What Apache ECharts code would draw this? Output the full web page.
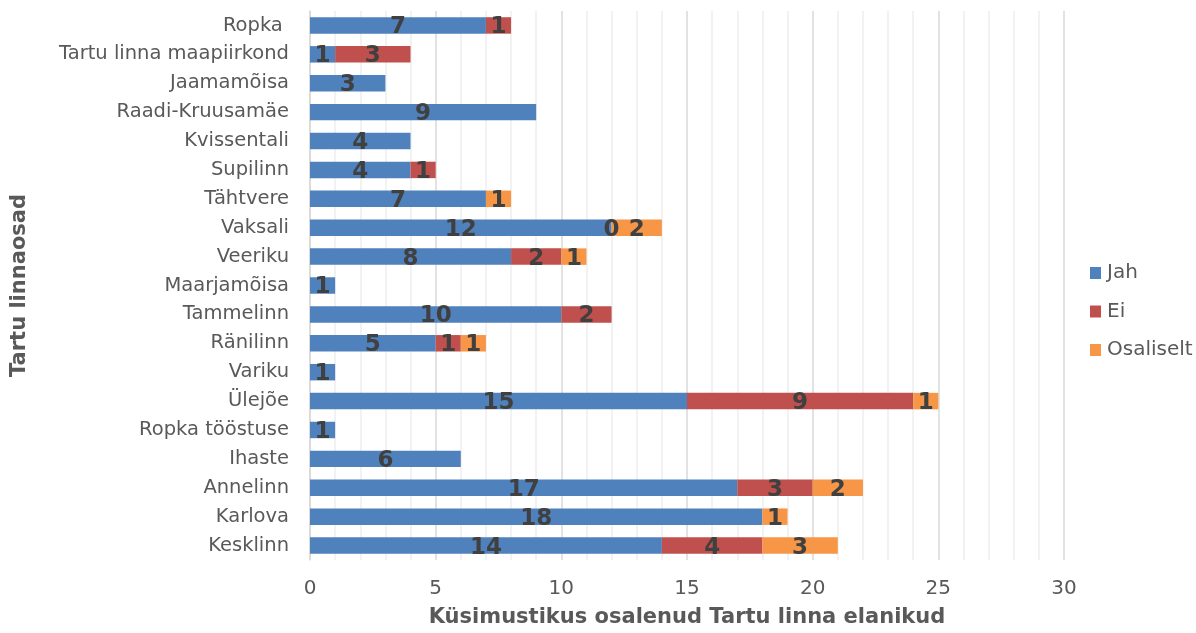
<!DOCTYPE html>
<html><head><meta charset="utf-8">
<script src="https://cdn.jsdelivr.net/npm/echarts@6/dist/echarts.min.js"></script>
<style>html,body{margin:0;padding:0;background:#fff}#c{width:1196px;height:633px}</style>
</head><body><div id="c"></div>
<script>
const categories = ["Kesklinn","Karlova","Annelinn","Ihaste","Ropka tööstuse","Ülejõe","Variku","Ränilinn","Tammelinn","Maarjamõisa","Veeriku","Vaksali","Tähtvere","Supilinn","Kvissentali","Raadi-Kruusamäe","Jaamamõisa","Tartu linna maapiirkond","Ropka "];
const jah = [14,18,17,6,1,15,1,5,10,1,8,12,7,4,4,9,3,1,7];
const ei = [4,null,3,null,null,9,null,1,2,null,2,0,null,1,null,null,null,3,1];
const osaliselt = [3,1,2,null,null,1,null,1,null,null,1,2,1,null,null,null,null,null,null];
const seriesNames = ["Jah","Ei","Osaliselt"];
const xTicks = [0,5,10,15,20,25,30];

const font = "'DejaVu Sans', Verdana, sans-serif";
const colors = ["#4f81bd","#c0504d","#f79646"];
const chart = echarts.init(document.getElementById('c'));
const lbl = {show:true,position:'inside',color:'#404040',fontFamily:font,fontWeight:'bold',fontSize:23,offset:[0,2],
  formatter:p=>(p.value===null||p.value===undefined)?'':String(p.value)};
chart.setOption({
  animation:false,
  color:colors,
  grid:{left:310,right:132,top:11,bottom:68,containLabel:false},
  legend:{orient:'vertical',left:1085,top:258,itemWidth:11,itemHeight:12,itemGap:18.5,icon:'rect',
    textStyle:{fontFamily:font,fontSize:20,lineHeight:20,color:'#595959',padding:[0,0,0,1]},data:seriesNames},
  xAxis:{type:'value',min:0,max:30,interval:5,
    name:'Küsimustikus osalenud Tartu linna elanikud',nameLocation:'middle',nameGap:47,
    nameTextStyle:{fontFamily:font,fontSize:21,fontWeight:'bold',color:'#595959'},
    axisLine:{show:false},axisTick:{show:false},
    axisLabel:{fontFamily:font,fontSize:20,color:'#595959',margin:19,formatter:v=>xTicks.includes(v)?String(v):''},
    splitLine:{show:true,lineStyle:{color:'#d9d9d9',width:1.5}},
    minorTick:{show:false,splitNumber:5},
    minorSplitLine:{show:true,lineStyle:{color:'#eeeeee',width:1.5}}},
  yAxis:{type:'category',data:categories,
    name:'Tartu linnaosad',nameLocation:'middle',nameGap:280,nameRotate:90,
    nameTextStyle:{fontFamily:font,fontSize:21,fontWeight:'bold',color:'#595959'},
    axisLine:{show:true,lineStyle:{color:'#d9d9d9',width:1.5}},axisTick:{show:false},
    axisLabel:{fontFamily:font,fontSize:19.5,color:'#595959',margin:21}},
  series:[
    {name:seriesNames[0],type:'bar',stack:'s',barWidth:'57%',data:jah,label:lbl},
    {name:seriesNames[1],type:'bar',stack:'s',barWidth:'57%',data:ei,label:lbl},
    {name:seriesNames[2],type:'bar',stack:'s',barWidth:'57%',data:osaliselt,label:lbl}
  ]
});
</script></body></html>
